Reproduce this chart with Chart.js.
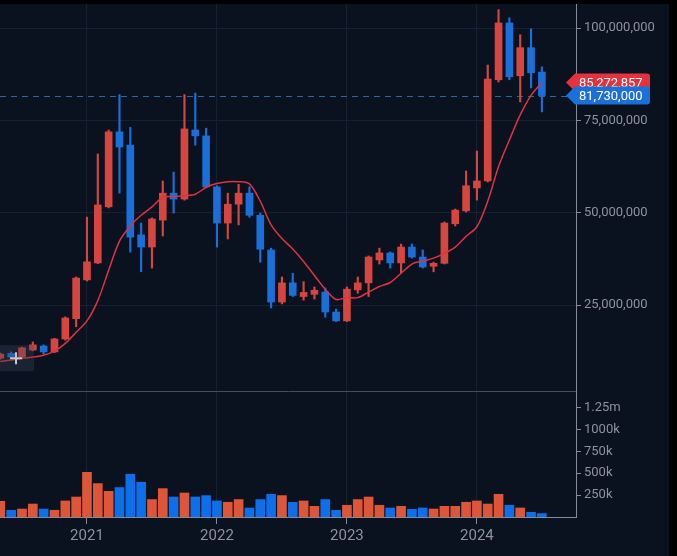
<!DOCTYPE html>
<html>
<head>
<meta charset="utf-8">
<script src="https://cdn.jsdelivr.net/npm/chart.js@4.4.1/dist/chart.umd.min.js"></script>
<style>
  html, body { margin: 0; padding: 0; background: #000; }
  #wrap { position: absolute; left: 0; top: 4px; width: 669px; height: 552px; background: #0a111f; }
  #priceBox { position: absolute; left: 0; top: 0; width: 669px; height: 388px; }
  #volBox { position: absolute; left: 0; top: 388px; width: 669px; height: 160px; }
</style>
</head>
<body>
<div id="wrap">
  <div id="priceBox"><canvas id="priceChart"></canvas></div>
  <div id="volBox"><canvas id="volChart"></canvas></div>
</div>
<script>
// monthly candles, May 2020 .. Jul 2024
const months = [
  '2020-05','2020-06','2020-07','2020-08','2020-09','2020-10','2020-11','2020-12',
  '2021-01','2021-02','2021-03','2021-04','2021-05','2021-06','2021-07','2021-08','2021-09','2021-10','2021-11','2021-12',
  '2022-01','2022-02','2022-03','2022-04','2022-05','2022-06','2022-07','2022-08','2022-09','2022-10','2022-11','2022-12',
  '2023-01','2023-02','2023-03','2023-04','2023-05','2023-06','2023-07','2023-08','2023-09','2023-10','2023-11','2023-12',
  '2024-01','2024-02','2024-03','2024-04','2024-05','2024-06','2024-07'
];
const opens = [
  10600000, 11900000, 10900000, 12800000, 13900000, 12300000, 15800000, 21300000,
  31800000, 36400000, 51600000, 71900000, 68300000, 44000000, 40700000, 48000000, 55300000, 53700000, 72400000, 70800000,
  57000000, 47200000, 52300000, 55300000, 49300000, 39900000, 25800000, 31000000, 27300000, 27900000, 28500000, 23100000,
  20700000, 29100000, 31000000, 37200000, 39100000, 36400000, 40700000, 38000000, 35500000, 36300000, 47000000, 50500000,
  56700000, 58600000, 86000000, 101400000, 87100000, 94700000, 88100000
];
const highs = [
  12000000, 12300000, 13600000, 15000000, 14200000, 16000000, 21800000, 32600000,
  48800000, 65900000, 72400000, 82000000, 73100000, 47200000, 48600000, 58600000, 61000000, 82000000, 82400000, 72900000,
  57300000, 55300000, 57700000, 57000000, 49900000, 40400000, 32600000, 33600000, 31300000, 29900000, 29600000, 23900000,
  29900000, 32600000, 38300000, 40400000, 39400000, 41500000, 41500000, 39900000, 36600000, 47500000, 51000000, 61300000,
  66700000, 90000000, 105000000, 102800000, 98200000, 99800000, 89500000
];
const lows = [
  10300000, 10600000, 10700000, 12600000, 11700000, 12100000, 15500000, 19100000,
  31500000, 36200000, 51300000, 55300000, 39300000, 34000000, 35000000, 43700000, 49900000, 53400000, 68300000, 56700000,
  40700000, 42900000, 46700000, 48800000, 36600000, 24200000, 25300000, 27300000, 26300000, 26600000, 21700000, 20500000,
  20500000, 28200000, 27300000, 36100000, 35000000, 33600000, 37700000, 35000000, 34000000, 36100000, 46400000, 50200000,
  53400000, 58300000, 85400000, 86000000, 80000000, 83800000, 77300000
];
const closes = [
  11700000, 10900000, 13400000, 14200000, 12300000, 15800000, 21500000, 32300000,
  36700000, 52100000, 71900000, 67800000, 43400000, 40700000, 48300000, 55300000, 53700000, 72700000, 70800000, 57000000,
  47200000, 52300000, 55300000, 49300000, 40100000, 25800000, 31000000, 27600000, 28400000, 29000000, 23100000, 20700000,
  29300000, 31000000, 38000000, 39100000, 36400000, 40700000, 38000000, 35300000, 36300000, 47200000, 50700000, 57300000,
  58600000, 86200000, 101400000, 86800000, 94700000, 87900000, 81730000
];
// 7-month moving average line (red)
const ma7 = [
  9700000, 10100000, 10500000, 10900000, 11400000, 12500000, 14600000, 17600000,
  20700000, 26200000, 34400000, 42300000, 46400000, 49300000, 51600000, 54200000, 54400000, 54600000, 55000000, 56900000,
  57900000, 58400000, 58400000, 57800000, 53100000, 46700000, 43000000, 40200000, 36800000, 33000000, 29300000, 26500000,
  27000000, 27000000, 28500000, 30000000, 31100000, 33600000, 36100000, 36900000, 37700000, 39000000, 40700000, 43600000,
  46200000, 53100000, 62500000, 69700000, 76500000, 81800000, 85272857
];
const volumes = [
  179000, 77000, 91000, 148000, 91000, 77000, 183000, 228000,
  510000, 381000, 293000, 336000, 488000, 396000, 199000, 324000, 228000, 274000, 228000, 244000,
  183000, 168000, 199000, 103000, 199000, 259000, 244000, 168000, 183000, 122000, 199000, 77000,
  134000, 199000, 228000, 134000, 103000, 122000, 88000, 103000, 91000, 122000, 122000, 168000,
  183000, 148000, 259000, 134000, 103000, 54000, 39000
];
const yearTicks = ['2021', '2022', '2023', '2024'];
const priceTicks = [25000000, 50000000, 75000000, 100000000];
const volTicks = [250000, 500000, 750000, 1000000, 1250000];
const volTickLabels = ['250k', '500k', '750k', '1000k', '1.25m'];

const UP = '#d6463e', DOWN = '#1a6fd8';
const VOL_UP = '#de5638', VOL_DOWN = '#0d6fea';
const GRID = '#162031', AXIS = '#858c96', TEXT = '#8c939d';

// months counted from Jan 2021
function monthPos(s) {
  const [yy, mm] = s.split('-').map(Number);
  return (yy - 2021) * 12 + (mm - 1);
}
const xs = months.map(monthPos);
const yearPos = yearTicks.map(y => monthPos(y + '-01'));
const xMin = -8.03, xMax = 45.15;

const isUp = closes.map((c, i) => c >= opens[i]);
const candleColors = isUp.map(u => u ? UP : DOWN);
const volColors = isUp.map(u => u ? VOL_UP : VOL_DOWN);

const bodies = xs.map((x, i) => ({ x: x, y: [opens[i], closes[i]] }));
const wicks = xs.map((x, i) => ({ x: x, y: [lows[i], highs[i]] }));
const maLine = xs.map((x, i) => ({ x: x, y: ma7[i] }));
const volBars = xs.map((x, i) => ({ x: x, y: volumes[i] }));

const font = { family: 'Roboto', size: 13 };

// keep the plot area flush with the canvas edges
function noPad(s) {
  s.paddingTop = 0; s.paddingBottom = 0; s.paddingLeft = 0; s.paddingRight = 0;
}

function drawTag(ctx, x, yc, text, color) {
  const h = 18, w = 84, r = 3;
  ctx.beginPath();
  ctx.moveTo(x, yc);
  ctx.lineTo(x + 9, yc - h / 2);
  ctx.lineTo(x + w - r, yc - h / 2);
  ctx.quadraticCurveTo(x + w, yc - h / 2, x + w, yc - h / 2 + r);
  ctx.lineTo(x + w, yc + h / 2 - r);
  ctx.quadraticCurveTo(x + w, yc + h / 2, x + w - r, yc + h / 2);
  ctx.lineTo(x + 9, yc + h / 2);
  ctx.closePath();
  ctx.fillStyle = color;
  ctx.fill();
  ctx.fillStyle = '#ffffff';
  ctx.font = '13px Roboto';
  ctx.textBaseline = 'middle';
  ctx.textAlign = 'left';
  ctx.fillText(text, x + 13, yc + 1);
}

const priceMarks = {
  id: 'priceMarks',
  beforeDatasetsDraw(chart) {
    const { ctx, chartArea, scales } = chart;
    const ly = Math.round(scales.y.getPixelForValue(closes[closes.length - 1])) + 0.5;
    ctx.save();
    ctx.strokeStyle = '#2d67a4';
    ctx.lineWidth = 1;
    ctx.setLineDash([6, 5]);
    ctx.beginPath();
    ctx.moveTo(chartArea.left, ly);
    ctx.lineTo(chartArea.right, ly);
    ctx.stroke();
    ctx.restore();
  },
  afterDraw(chart) {
    const { ctx, chartArea, scales } = chart;
    ctx.save();
    // crosshair left over from the screenshot
    const cx = scales.x.getPixelForValue(-6.55), cy = scales.y.getPixelForValue(10600000);
    ctx.fillStyle = 'rgba(60, 70, 88, 0.35)';
    ctx.fillRect(chartArea.left, cy - 13, cx + 18 - chartArea.left, 26);
    ctx.strokeStyle = '#c4c9d1';
    ctx.lineWidth = 2;
    ctx.beginPath();
    ctx.moveTo(cx - 6, cy); ctx.lineTo(cx + 6, cy);
    ctx.moveTo(cx, cy - 6); ctx.lineTo(cx, cy + 6);
    ctx.stroke();
    // last value tags
    const tx = chartArea.right - 10;
    const maVal = ma7[ma7.length - 1], last = closes[closes.length - 1];
    drawTag(ctx, tx, scales.y.getPixelForValue(maVal), maVal.toLocaleString('en-US'), '#e5323f');
    drawTag(ctx, tx, scales.y.getPixelForValue(last), last.toLocaleString('en-US'), '#1a6fd8');
    ctx.restore();
  }
};

new Chart(document.getElementById('priceChart'), {
  type: 'bar',
  data: {
    datasets: [
      { type: 'line', data: maLine, borderColor: '#e0323f', borderWidth: 1.5, pointRadius: 0, tension: 0.3, order: 0 },
      { data: bodies, backgroundColor: candleColors, barThickness: 7, grouped: false, order: 1 },
      { data: wicks, backgroundColor: candleColors, barThickness: 1.5, grouped: false, order: 2 }
    ]
  },
  options: {
    responsive: true,
    maintainAspectRatio: false,
    animation: false,
    layout: { padding: 0, autoPadding: false },
    plugins: { legend: { display: false }, tooltip: { enabled: false } },
    scales: {
      x: {
        type: 'linear', min: xMin, max: xMax, offset: false,
        afterBuildTicks: s => { s.ticks = yearPos.map(v => ({ value: v })); },
        ticks: { display: false },
        grid: { color: GRID, drawTicks: false, offset: false },
        border: { color: '#464e5b' },
        afterFit: s => { s.height = 1; noPad(s); }
      },
      y: {
        position: 'right', min: 1710000, max: 106530000,
        afterBuildTicks: s => { s.ticks = priceTicks.map(v => ({ value: v })); },
        ticks: { color: TEXT, font: font, padding: 3, callback: v => v.toLocaleString('en-US') },
        grid: { color: GRID, tickColor: AXIS, tickLength: 5 },
        border: { color: AXIS },
        afterFit: s => { s.width = 93; noPad(s); }
      }
    }
  },
  plugins: [priceMarks]
});

new Chart(document.getElementById('volChart'), {
  type: 'bar',
  data: {
    datasets: [
      { data: volBars, backgroundColor: volColors, barThickness: 9 }
    ]
  },
  options: {
    responsive: true,
    maintainAspectRatio: false,
    animation: false,
    layout: { padding: 0, autoPadding: false },
    plugins: { legend: { display: false }, tooltip: { enabled: false } },
    scales: {
      x: {
        type: 'linear', min: xMin, max: xMax, offset: false,
        afterBuildTicks: s => { s.ticks = yearPos.map(v => ({ value: v })); },
        ticks: {
          color: TEXT, font: { family: 'Roboto', size: 15 }, padding: 3, autoSkip: false, maxRotation: 0,
          callback: v => yearTicks[yearPos.indexOf(v)]
        },
        grid: { color: GRID, tickColor: AXIS, tickLength: 7, offset: false },
        border: { color: AXIS },
        afterFit: s => { s.height = 35; noPad(s); }
      },
      y: {
        position: 'right', min: 0, max: 1426000,
        afterBuildTicks: s => { s.ticks = volTicks.map(v => ({ value: v })); },
        ticks: { color: TEXT, font: font, padding: 3, callback: v => volTickLabels[volTicks.indexOf(v)] },
        grid: { drawOnChartArea: false, tickColor: AXIS, tickLength: 5 },
        border: { color: AXIS },
        afterFit: s => { s.width = 93; noPad(s); }
      }
    }
  }
});
</script>
</body>
</html>
